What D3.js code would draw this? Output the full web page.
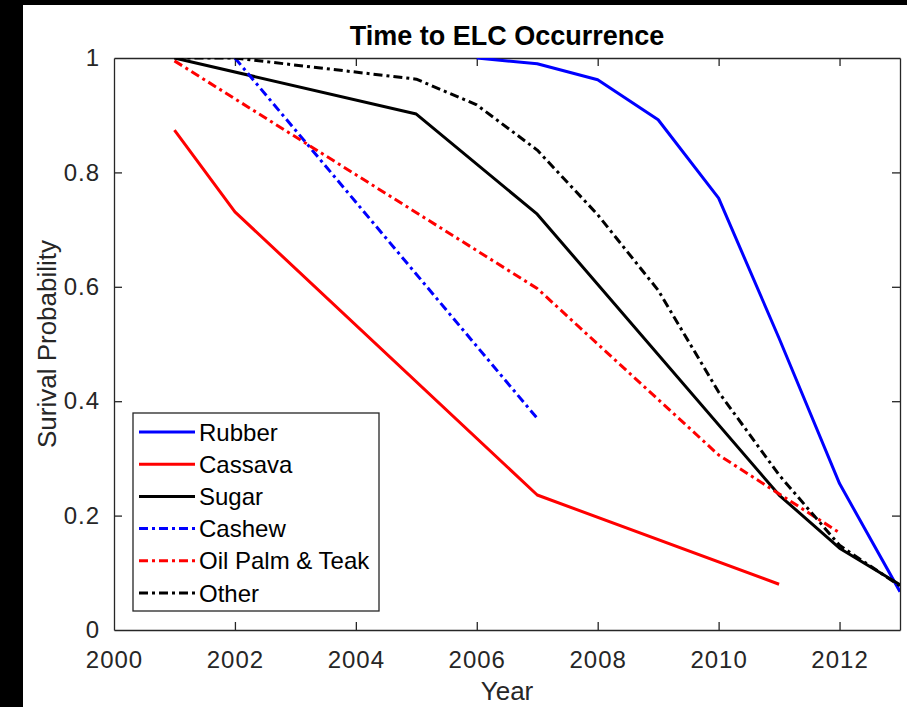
<!DOCTYPE html>
<html lang="en">
<head>
    <meta charset="UTF-8">
    <title>Time to ELC Occurrence</title>
    <style>
        body { margin: 0; background: #fff; }
        text { font-family: "Liberation Sans", Arial, Helvetica, sans-serif; }
    </style>
</head>
<body>
    <svg width="907" height="707"></svg>

    <script src="https://d3js.org/d3.v7.min.js"></script>
    <script>
        // data
        var categories = ["Rubber", "Cassava", "Sugar", "Cashew", "Oil Palm & Teak", "Other"];

        var rubberX = [2006, 2007, 2008, 2009, 2010, 2011, 2012, 2013],
            rubberY = [1.0, 0.99, 0.962, 0.892, 0.755, 0.51, 0.256, 0.067];
        var cassavaX = [2001, 2002, 2007, 2011],
            cassavaY = [0.874, 0.731, 0.236, 0.080];
        var sugarX = [2001, 2005, 2007, 2011, 2012, 2013],
            sugarY = [1.0, 0.902, 0.727, 0.236, 0.143, 0.079];
        var cashewX = [2002, 2007],
            cashewY = [1.0, 0.370];
        var oilX = [2001, 2007, 2010, 2012],
            oilY = [0.995, 0.597, 0.306, 0.170];
        var otherX = [2001, 2002, 2005, 2006, 2007, 2008, 2009, 2010, 2011, 2012, 2013],
            otherY = [1.0, 1.0, 0.963, 0.918, 0.839, 0.726, 0.594, 0.416, 0.271, 0.148, 0.077];

        var xTicks = [2000, 2002, 2004, 2006, 2008, 2010, 2012],
            yTicks = [0, 0.2, 0.4, 0.6, 0.8, 1];

        var series = [
            { name: categories[0], xs: rubberX, ys: rubberY, color: "#0000ff", dash: null },
            { name: categories[1], xs: cassavaX, ys: cassavaY, color: "#ff0000", dash: null },
            { name: categories[2], xs: sugarX, ys: sugarY, color: "#000000", dash: null },
            { name: categories[3], xs: cashewX, ys: cashewY, color: "#0000ff", dash: "9,4,3,4" },
            { name: categories[4], xs: oilX, ys: oilY, color: "#ff0000", dash: "9,4,3,4" },
            { name: categories[5], xs: otherX, ys: otherY, color: "#000000", dash: "9,4,3,4" }
        ];

        var svg = d3.select("svg"),
            width = +svg.attr("width"),
            height = +svg.attr("height");

        var plotL = 114, plotR = 900, plotT = 58, plotB = 630;
        var axisColor = "#262626";

        // black strips round the exported figure
        svg.append("rect").attr("x", 0).attr("y", 0).attr("width", width).attr("height", height).attr("fill", "#fff");
        svg.append("rect").attr("x", 0).attr("y", 0).attr("width", 23).attr("height", height).attr("fill", "#000");
        svg.append("rect").attr("x", 0).attr("y", 0).attr("width", width).attr("height", 5).attr("fill", "#000");

        var x = d3.scaleLinear().domain([2000, 2013]).range([plotL, plotR]);
        var y = d3.scaleLinear().domain([0, 1]).range([plotB, plotT]);

        svg.append("clipPath").attr("id", "plotclip")
            .append("rect").attr("x", plotL).attr("y", plotT)
            .attr("width", plotR - plotL).attr("height", plotB - plotT);

        // axes: ticks point inwards, box on all sides
        var tickLen = 8;
        var xAxis = svg.append("g").attr("transform", "translate(0," + plotB + ")")
            .call(d3.axisBottom(x).tickValues(xTicks).tickFormat(d3.format("d"))
                .tickSizeInner(-tickLen).tickSizeOuter(0).tickPadding(21));
        var xTop = svg.append("g").attr("transform", "translate(0," + plotT + ")")
            .call(d3.axisTop(x).tickValues(xTicks).tickFormat("")
                .tickSizeInner(-tickLen).tickSizeOuter(0));
        var yAxis = svg.append("g").attr("transform", "translate(" + plotL + ",0)")
            .call(d3.axisLeft(y).tickValues(yTicks).tickFormat(d3.format("~g"))
                .tickSizeInner(-tickLen).tickSizeOuter(0).tickPadding(14));
        var yRight = svg.append("g").attr("transform", "translate(" + plotR + ",0)")
            .call(d3.axisRight(y).tickValues(yTicks).tickFormat("")
                .tickSizeInner(-tickLen).tickSizeOuter(0));

        [xAxis, xTop, yAxis, yRight].forEach(function (g) {
            g.select(".domain").attr("stroke", axisColor).attr("stroke-width", 1.3);
            g.selectAll(".tick line").attr("stroke", axisColor).attr("stroke-width", 1.3);
            g.selectAll(".tick text").attr("fill", axisColor)
                .style("font-size", "24px").style("letter-spacing", "1px");
        });
        // drop ticks that sit on the frame corners
        xTop.selectAll(".tick").filter(function (d) { return d === 2000; }).remove();
        yRight.selectAll(".tick").filter(function (d) { return d === 0 || d === 1; }).remove();
        xAxis.selectAll(".tick line").filter(function (d) { return d === 2000; }).remove();
        yAxis.selectAll(".tick line").filter(function (d) { return d === 0 || d === 1; }).remove();

        // series
        var line = d3.line()
            .x(function (d) { return x(d[0]); })
            .y(function (d) { return y(d[1]); });

        var plot = svg.append("g").attr("clip-path", "url(#plotclip)");
        series.forEach(function (s) {
            plot.append("path")
                .datum(d3.zip(s.xs, s.ys))
                .attr("d", line)
                .attr("fill", "none")
                .attr("stroke", s.color)
                .attr("stroke-width", 3)
                .attr("stroke-dasharray", s.dash)
                .attr("stroke-linejoin", "round");
        });

        // title and axis labels
        svg.append("text")
            .attr("x", (plotL + plotR) / 2).attr("y", 45)
            .attr("text-anchor", "middle")
            .style("font-size", "27px").style("font-weight", "bold")
            .attr("fill", "#000")
            .text("Time to ELC Occurrence");

        svg.append("text")
            .attr("x", (plotL + plotR) / 2).attr("y", 700)
            .attr("text-anchor", "middle")
            .style("font-size", "26px")
            .attr("fill", axisColor)
            .text("Year");

        svg.append("text")
            .attr("transform", "translate(56," + (plotT + plotB) / 2 + ") rotate(-90)")
            .attr("text-anchor", "middle")
            .style("font-size", "26px")
            .attr("fill", axisColor)
            .text("Surival Probability");

        // legend
        var legend = svg.append("g");
        legend.append("rect")
            .attr("x", 133).attr("y", 413)
            .attr("width", 246).attr("height", 198)
            .attr("fill", "#fff")
            .attr("stroke", axisColor).attr("stroke-width", 1.3);

        var rowY = d3.scalePoint().domain(categories).range([432, 593]);
        series.forEach(function (s) {
            var ly = rowY(s.name);
            legend.append("line")
                .attr("x1", 139).attr("x2", 195)
                .attr("y1", ly).attr("y2", ly)
                .attr("stroke", s.color).attr("stroke-width", 3)
                .attr("stroke-dasharray", s.dash);
            legend.append("text")
                .attr("x", 199).attr("y", ly + 8.5)
                .style("font-size", "24px")
                .attr("fill", "#000")
                .text(s.name);
        });
    </script>
</body>
</html>
